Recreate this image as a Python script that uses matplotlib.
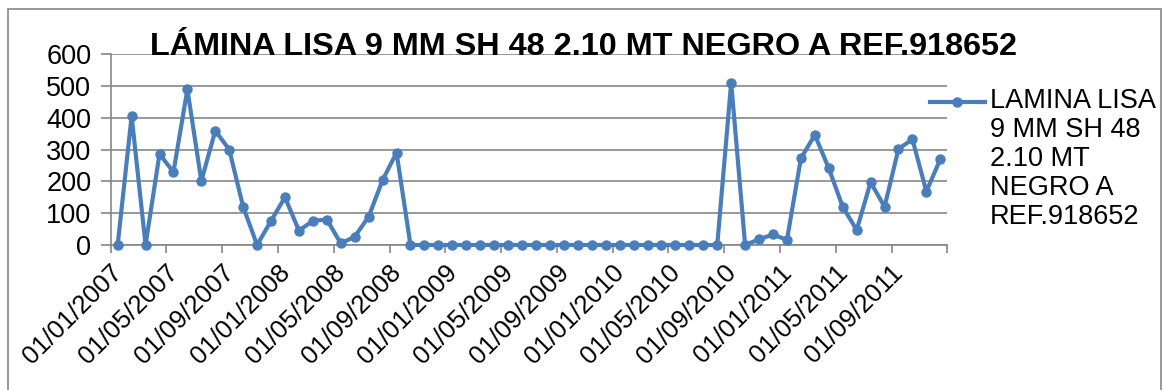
import numpy as np
import pandas as pd
import matplotlib
matplotlib.use("Agg")
import matplotlib.pyplot as plt
import matplotlib.transforms as mtransforms
from matplotlib.lines import Line2D
from matplotlib.patches import Rectangle

plt.rcParams['font.family'] = ['Liberation Sans', 'DejaVu Sans']

titulo = "LÁMINA LISA 9 MM SH 48 2.10 MT NEGRO A REF.918652"
serie = "LAMINA LISA\n9 MM SH 48\n2.10 MT\nNEGRO A\nREF.918652"

# monthly values, jan 2007 .. dec 2011
meses = pd.date_range("2007-01-01", "2011-12-01", freq="MS")
valores = [0, 405, 0, 286, 229, 489, 201, 359, 300, 120,
           0, 76, 150, 45, 76, 80, 5, 26, 89, 204,
           290, 0, 0, 0, 0, 0, 0, 0, 0, 0,
           0, 0, 0, 0, 0, 0, 0, 0, 0, 0,
           0, 0, 0, 0, 510, 0, 18, 33, 16, 272,
           346, 241, 120, 47, 197, 120, 302, 332, 168, 270]
yticks = [0, 100, 200, 300, 400, 500, 600]

azul = "#4a7ebb"
gris = "#868686"

fig = plt.figure(figsize=(11.62, 3.90), dpi=100)
W, H = 1162, 390
ax = fig.add_axes([110.7 / W, (H - 245) / H, (947.3 - 110.7) / W, (245 - 54) / H])

x = np.arange(len(meses))
ax.plot(x, valores, color=azul, lw=3.0, marker="o", ms=6.5, zorder=3, clip_on=False)

ax.set_xlim(-0.5, len(meses) - 0.5)
ax.set_ylim(0, 600)
ax.set_yticks(yticks)
ax.yaxis.grid(True, color=gris, lw=1.2)
ax.set_axisbelow(True)

# ticks on month boundaries every 4 months
pos = np.arange(-0.5, len(meses), 4)
etiquetas = [m.strftime("%d/%m/%Y") for m in meses[::4]] + [""]
ax.set_xticks(pos)
ax.set_xticklabels(etiquetas, rotation=45, ha="right", va="center",
                   rotation_mode="anchor", fontsize=18.5)
ax.tick_params(axis="x", length=6, width=1.2, color=gris, pad=11)
ax.tick_params(axis="y", length=7, width=1.2, color=gris, labelsize=19.5, pad=7)
desplaza = mtransforms.ScaledTranslation(8 / 100, 0, fig.dpi_scale_trans)
for lab in ax.get_xticklabels():
    lab.set_transform(lab.get_transform() + desplaza)
for s in ["top", "right"]:
    ax.spines[s].set_visible(False)
for s in ["left", "bottom"]:
    ax.spines[s].set_color(gris)
    ax.spines[s].set_linewidth(1.2)

fig.text(584 / W, 1 - 47 / H, titulo, ha="center", va="center",
         fontsize=23.3, fontweight="bold")

# legend drawn by hand so the key sits on the first line
ly = 1 - 101.7 / H
fig.add_artist(Line2D([930 / W, 985 / W], [ly, ly], color=azul, lw=3.0))
fig.add_artist(Line2D([957 / W], [ly], color=azul, marker="o", ms=6.5))
fig.text(990 / W, 1 - 88 / H, serie, ha="left", va="top", fontsize=19.5,
         linespacing=1.15)

fig.add_artist(Rectangle((8 / W, -0.05), (1161 - 8) / W, 1.05 - 9.5 / H,
                         fill=False, ec=gris, lw=1.2, transform=fig.transFigure))

fig.savefig("out.png", dpi=100)
